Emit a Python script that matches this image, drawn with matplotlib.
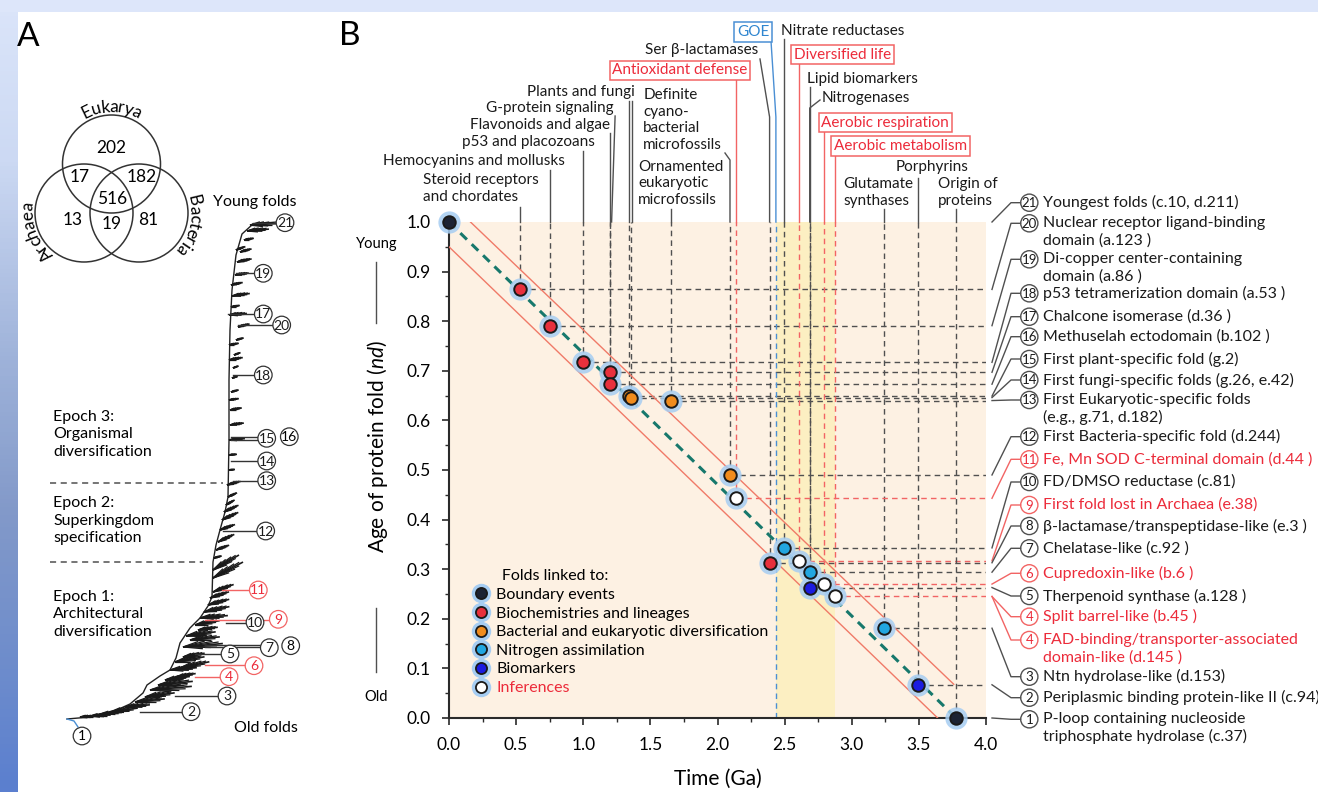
import numpy as np
import matplotlib
matplotlib.use("Agg")
import matplotlib.pyplot as plt
from matplotlib.patches import Circle, Rectangle
from matplotlib.lines import Line2D
from matplotlib.legend_handler import HandlerTuple
from matplotlib.ticker import MultipleLocator, FormatStrFormatter
from matplotlib.colors import LinearSegmentedColormap
from matplotlib.textpath import text_to_path
from matplotlib.font_manager import FontProperties

plt.rcParams['font.family'] = ['Lato', 'DejaVu Sans']
plt.rcParams['mathtext.fontset'] = 'custom'
plt.rcParams['mathtext.it'] = 'Lato:italic'
plt.rcParams['mathtext.rm'] = 'Lato'

# ---------------- data (panel B) ----------------
boundary_t = [0.0, 3.777]
boundary_nd = [1.0, 0.0]
biochem_t = [0.529, 0.752, 1.0, 1.2, 1.2, 2.388]
biochem_nd = [0.864, 0.791, 0.717, 0.697, 0.673, 0.313]
bactdiv_t = [1.343, 1.358, 1.651, 2.093]
bactdiv_nd = [0.649, 0.646, 0.640, 0.490]
nitrogen_t = [2.493, 2.687, 3.237]
nitrogen_nd = [0.343, 0.294, 0.181]
biomarker_t = [2.687, 3.496]
biomarker_nd = [0.263, 0.067]
inference_t = [2.135, 2.609, 2.794, 2.876]
inference_nd = [0.443, 0.317, 0.270, 0.245]

series_names = ['Boundary events', 'Biochemistries and lineages',
                'Bacterial and eukaryotic diversification', 'Nitrogen assimilation',
                'Biomarkers', 'Inferences']

clock_t = [0.0, 3.777]
clock_nd = [1.0, 0.0]
upper_t = [0.16, 3.76]
upper_nd = [1.0, 0.068]
lower_t = [0.0, 3.64]
lower_nd = [0.95, 0.0]
goe_t = 2.435
goe_band = [2.435, 2.876]

x_ticks = [0.0, 0.5, 1.0, 1.5, 2.0, 2.5, 3.0, 3.5, 4.0]
y_ticks = [0.0, 0.1, 0.2, 0.3, 0.4, 0.5, 0.6, 0.7, 0.8, 0.9, 1.0]

top_event_text = ['Steroid receptors\nand chordates', 'Hemocyanins and mollusks',
                  'p53 and placozoans', 'Flavonoids and algae', 'G-protein signaling',
                  'Plants and fungi', 'Ornamented\neukaryotic\nmicrofossils',
                  'Definite\ncyano-\nbacterial\nmicrofossils', 'Antioxidant defense',
                  'Ser β-lactamases', 'GOE', 'Nitrate reductases', 'Diversified life',
                  'Lipid biomarkers', 'Nitrogenases', 'Aerobic respiration',
                  'Aerobic metabolism', 'Glutamate\nsynthases', 'Porphyrins',
                  'Origin of\nproteins']
top_event_t = [0.529, 0.752, 1.0, 1.2, 1.2, 1.35, 1.651, 2.093, 2.135, 2.388, 2.435,
               2.493, 2.609, 2.687, 2.687, 2.794, 2.876, 3.237, 3.496, 3.777]
top_event_kind = ['k', 'k', 'k', 'k', 'k', 'k', 'k', 'k', 'r', 'k', 'b', 'k', 'r',
                  'k', 'k', 'r', 'r', 'k', 'k', 'k']

fold_num = ['21', '20', '19', '18', '17', '16', '15', '14', '13', '12', '11', '10',
            '9', '8', '7', '6', '5', '4', '4', '3', '2', '1']
fold_name = ['Youngest folds (c.10, d.211)',
             'Nuclear receptor ligand-binding\ndomain (a.123 )',
             'Di-copper center-containing\ndomain (a.86 )',
             'p53 tetramerization domain (a.53 )',
             'Chalcone isomerase (d.36 )',
             'Methuselah ectodomain (b.102 )',
             'First plant-specific fold (g.2)',
             'First fungi-specific folds (g.26, e.42)',
             'First Eukaryotic-specific folds\n(e.g., g.71, d.182)',
             'First Bacteria-specific fold (d.244)',
             'Fe, Mn SOD C-terminal domain (d.44 )',
             'FD/DMSO reductase (c.81)',
             'First fold lost in Archaea (e.38)',
             'β-lactamase/transpeptidase-like (e.3 )',
             'Chelatase-like (c.92 )',
             'Cupredoxin-like (b.6 )',
             'Therpenoid synthase (a.128 )',
             'Split barrel-like (b.45 )',
             'FAD-binding/transporter-associated\ndomain-like (d.145 )',
             'Ntn hydrolase-like (d.153)',
             'Periplasmic binding protein-like II (c.94)',
             'P-loop containing nucleoside\ntriphosphate hydrolase (c.37)']
fold_nd = [1.0, 0.864, 0.791, 0.717, 0.697, 0.673, 0.649, 0.646, 0.640, 0.490, 0.443,
           0.343, 0.317, 0.313, 0.294, 0.270, 0.263, 0.245, 0.245, 0.181, 0.067, 0.0]
fold_red = [False] * 10 + [True, False, True, False, False, True, False, True, True,
                           False, False, False]

# ---------------- data (panel A) ----------------
venn_names = ['Eukarya', 'Archaea', 'Bacteria']
venn_counts = ['202', '17', '182', '516', '13', '81', '19']

tree_trunk_x = [67, 90, 110, 130, 143, 147, 160, 170, 176, 180, 190, 200, 208, 212,
                213, 216, 220, 225, 228, 229, 229, 230, 232, 236, 242, 253, 277]
tree_trunk_y = [719, 717, 713, 704, 693, 685, 676, 670, 658, 643, 628, 618, 606, 597,
                562, 545, 530, 512, 497, 440, 380, 330, 290, 255, 234, 224, 222]
tuft_x = [250, 247, 244, 240, 237, 235, 232, 231, 229, 238, 236, 234, 233, 232, 231,
          230, 230, 229, 229, 228, 226, 222, 220, 218, 214, 213, 213, 208, 200, 198,
          190, 183, 183, 180, 176, 170, 150, 145, 125, 110, 90,
          236, 231, 229, 229, 229, 229, 227, 224, 216, 213, 210, 204, 195, 186, 175,
          165, 158, 135, 100, 80]
tuft_y = [225, 231, 240, 252, 262, 275, 296, 307, 315, 327, 340, 355, 368, 378, 392,
          410, 425, 440, 470, 497, 505, 520, 530, 542, 558, 578, 592, 605, 618, 630,
          640, 647, 657, 668, 677, 670, 690, 697, 707, 712, 716,
          250, 285, 345, 360, 400, 455, 485, 512, 550, 570, 598, 612, 625, 636, 662,
          680, 685, 702, 714, 717]
tuft_len = [26, 22, 10, 12, 15, 14, 18, 9, 18, 12, 8, 7, 6, 6, 8, 12, 14, 16, 6, 10,
            10, 18, 16, 18, 8, 34, 22, 22, 28, 20, 30, 40, 22, 30, 20, 27, 42, 30, 25,
            28, 20,
            10, 12, 10, 14, 10, 8, 14, 16, 14, 30, 20, 26, 25, 30, 30, 25, 35, 30, 22, 15]
tuft_ang = [3, 5, 10, 15, 12, 8, 8, 10, 5, 15, 15, 20, 20, 15, 15, 10, 8, 5, 5, 25,
            30, 25, 20, 25, 15, 28, 20, 15, 5, 8, 6, 5, 10, 12, 10, 5, 5, 8, 5, 8, 3,
            20, 12, 10, 10, 8, 5, 15, 25, 20, 30, 18, 12, 10, 8, 10, 8, 6, 6, 4, 3]

# ---------------- figure ----------------
W, H = 1318, 792
fig = plt.figure(figsize=(W / 100, H / 100), dpi=100)

bg = fig.add_axes([0, 0, 1, 1], zorder=-5)
bg.set_xlim(0, W); bg.set_ylim(H, 0); bg.axis('off')
grad = LinearSegmentedColormap.from_list('g', [(0, '#dbe5fa'), (0.2, '#ccd9f3'),
                                               (0.45, '#9fb3da'), (0.65, '#8299c9'),
                                               (0.85, '#6d8ccc'), (1, '#5b7fcf')])
bg.imshow(np.linspace(0, 1, 200).reshape(-1, 1), cmap=grad, aspect='auto',
          extent=(0, 18, H, 0))
bg.add_patch(Rectangle((0, 0), W, 12, color='#dde6fa', lw=0))
bg.add_patch(Rectangle((18, 12), W - 18, H - 12, color='white', lw=0))

# main axes
ax = fig.add_axes([449 / W, 1 - 718 / H, 537 / W, 496 / H], zorder=1)
ax.set_xlim(0, 4.0)
ax.set_ylim(0, 1.0)
ax.set_facecolor('#fdf1e3')
ax.axvspan(goe_band[0], goe_band[1], color='#fcefc2', lw=0, zorder=0.5)
for s in ['top', 'right']:
    ax.spines[s].set_visible(False)
for s in ['left', 'bottom']:
    ax.spines[s].set_color('#2a2a2a')
    ax.spines[s].set_linewidth(1.5)
ax.xaxis.set_minor_locator(MultipleLocator(0.25))
ax.yaxis.set_minor_locator(MultipleLocator(0.05))
ax.set_xticks(x_ticks)
ax.set_yticks(y_ticks)
ax.xaxis.set_major_formatter(FormatStrFormatter('%.1f'))
ax.yaxis.set_major_formatter(FormatStrFormatter('%.1f'))
ax.tick_params(which='major', length=5, width=1.2, color='#2a2a2a', labelsize=12.5,
               direction='out')
ax.tick_params(axis='y', which='major', pad=8)
ax.tick_params(axis='x', which='major', pad=9)
ax.tick_params(which='minor', length=3, width=1.0, color='#2a2a2a', direction='out')

GRAY = '#505050'
RED = '#ec2b3a'
LRED = '#f26464'
BLUE = '#4a8fd4'
LINE_RED = '#f07a68'

all_t = biochem_t + bactdiv_t + nitrogen_t + biomarker_t + inference_t + [boundary_t[1]]
all_nd = biochem_nd + bactdiv_nd + nitrogen_nd + biomarker_nd + inference_nd + [boundary_nd[1]]
all_red = [False] * (len(all_t) - len(inference_t) - 1) + [True] * len(inference_t) + [False]
for t, nd, r in zip(all_t, all_nd, all_red):
    c = LRED if r else GRAY
    ax.vlines(t, nd, 1.0, colors=c, linestyles=(0, (4, 3)), lw=1.0, zorder=2)
    if nd > 0:
        ax.hlines(nd, t, 4.0, colors=c, linestyles=(0, (4, 3)), lw=1.0, zorder=2)
ax.vlines(goe_t, 0, 1.0, colors=BLUE, linestyles=(0, (4, 3)), lw=1.0, zorder=2)

ax.plot(upper_t, upper_nd, color=LINE_RED, lw=1.0, zorder=3)
ax.plot(lower_t, lower_nd, color=LINE_RED, lw=1.0, zorder=3)
ax.plot(clock_t, clock_nd, color='#17786c', lw=2.2, ls=(0, (3, 2.2)), zorder=3)

series = [(boundary_t, boundary_nd, '#1c2333'), (biochem_t, biochem_nd, '#e8303c'),
          (bactdiv_t, bactdiv_nd, '#f08c1e'), (nitrogen_t, nitrogen_nd, '#22a6e0'),
          (biomarker_t, biomarker_nd, '#1c1ce0'), (inference_t, inference_nd, '#ffffff')]
handles = []
for (t, nd, col) in series:
    ax.plot(t, nd, 'o', ms=16, color='#a6cdf2', alpha=0.85, mec='none', zorder=5,
            clip_on=False)
    ax.plot(t, nd, 'o', ms=9, mfc=col, mec='#1a1a1a', mew=1.4, zorder=6, clip_on=False)
    g = Line2D([], [], ls='none', marker='o', ms=14, color='#a6cdf2', mec='none')
    m = Line2D([], [], ls='none', marker='o', ms=8, mfc=col, mec='#1a1a1a', mew=1.3)
    handles.append((g, m))

leg = ax.legend(handles, series_names, loc='upper left', bbox_to_anchor=(0.045, 0.300),
                frameon=False, title='       Folds linked to:', alignment='left',
                fontsize=11.5, title_fontsize=11.5, handlelength=1.0,
                handletextpad=0.45, labelspacing=0.28, borderpad=0, borderaxespad=0,
                handler_map={tuple: HandlerTuple(ndivide=1)})
leg.get_texts()[-1].set_color(RED)
leg.set_zorder(7)

# ---------------- overlay (pixel coordinates) ----------------
ov = fig.add_axes([0, 0, 1, 1], zorder=3)
ov.set_xlim(0, W); ov.set_ylim(H, 0); ov.axis('off')
ov.patch.set_alpha(0)


def px(t, nd):
    return ov.transData.inverted().transform(ax.transData.transform((t, nd)))


ov.text(378, 447, 'Age of protein fold ($\\it{nd}$)', rotation=90, ha='center',
        va='center', fontsize=15)
ov.text(377, 244, 'Young', ha='center', va='center', fontsize=10.5)
ov.text(376, 697, 'Old', ha='center', va='center', fontsize=10.5)
ov.plot([376, 376], [262, 323], color=GRAY, lw=1)
ov.plot([376, 376], [608, 672], color=GRAY, lw=1)
ov.text(718, 779, 'Time (Ga)', ha='center', va='center', fontsize=15)

ov.text(28, 37, 'A', ha='center', va='center', fontsize=24)
ov.text(350, 36, 'B', ha='center', va='center', fontsize=24)

# top annotations layout: text x, first line y, ha, top of leader, kink
top_layout = [
    (422.7, 180.0, 'left', 207, None),
    (383.3, 160.7, 'left', 170, None),
    (595.0, 141.7, 'right', 151, None),
    (610.0, 125.0, 'right', 133, None),
    (613.3, 108.3, 'right', 116, 'gprot'),
    (635.0, 91.7, 'right', 101, 'double'),
    (638.3, 166.7, 'left', 209, None),
    (643.3, 95.0, 'left', 160, (725, 153)),
    (680.0, 70.5, 'center', 80, None),
    (758.3, 50.0, 'right', 117, (760, 59)),
    (753.3, 32.0, 'center', 117, (771, 41)),
    (781.0, 30.7, 'left', 39, None),
    (842.6, 54.7, 'center', 64, None),
    (807.3, 79.0, 'left', 87, None),
    (821.7, 98.3, 'left', 108, (820, 100)),
    (885.3, 122.5, 'center', 132, None),
    (900.3, 146.2, 'center', 156, None),
    (843.3, 184.0, 'left', 209, None),
    (895.7, 167.3, 'left', 178, None),
    (938.3, 184.0, 'left', 209, None),
]
top_y = px(0, 1.0)[1]
for txt, t, kind, (tx, ty, ha, yend, kink) in zip(top_event_text, top_event_t,
                                                   top_event_kind, top_layout):
    x = px(t, 1.0)[0]
    lc = {'k': GRAY, 'r': LRED, 'b': BLUE}[kind]
    tc = {'k': '#1a1a1a', 'r': RED, 'b': '#2f86d0'}[kind]
    if kink == 'gprot':
        ov.plot([x + 1.5, x + 5], [top_y, yend], color=lc, lw=1)
    elif kink == 'double':
        ov.plot([x - 1.3, x - 1.3], [top_y, yend], color=lc, lw=1)
        ov.plot([x + 1.3, x + 1.3], [top_y, yend], color=lc, lw=1)
    elif kink is not None:
        ov.plot([x, x, kink[0]], [top_y, yend, kink[1]], color=lc, lw=1)
    else:
        ov.plot([x, x], [top_y, yend], color=lc, lw=1)
    if kind == 'k':
        for i, line in enumerate(txt.split('\n')):
            ov.text(tx, ty + i * 16.7, line, ha=ha, va='center', fontsize=11,
                    color=tc)
    else:
        ov.text(tx, ty, txt, ha='center', va='center', fontsize=11, color=tc,
                bbox=dict(boxstyle='square,pad=0.18', fc='white', ec=lc, lw=1.1))

# right annotations
right_y = [202.7, 223.3, 259.3, 293.3, 316.7, 336.7, 359.0, 380.0, 400.0, 436.7,
           459.3, 482.0, 505.0, 526.0, 548.3, 573.3, 596.0, 616.7, 640.0, 676.7,
           697.7, 719.3]
right_pt = px(4.0, 0)[0]
for num, name, nd, red, ly in zip(fold_num, fold_name, fold_nd, fold_red, right_y):
    lc = LRED if red else GRAY
    tc = RED if red else '#1a1a1a'
    py = px(4.0, nd)[1]
    ov.plot([right_pt + 6, 1011, 1020.5], [py, ly, ly], color=lc, lw=1)
    ov.add_patch(Circle((1029.3, ly), 8.6, fc='white', ec=lc, lw=1))
    ov.text(1029.3, ly + 0.5, num, ha='center', va='center', fontsize=9.5, color=tc)
    for i, line in enumerate(name.split('\n')):
        ov.text(1043, ly + i * 17.3, line, ha='left', va='center', fontsize=11.5,
                color=tc)

# ---------------- panel A ----------------
venn_centers = [(111.5, 164), (84, 213), (139, 213)]
for (cx, cy) in venn_centers:
    ov.add_patch(Circle((cx, cy), 49, fc='none', ec='#333333', lw=1.1))
count_pos = [(111.7, 148.3), (80, 176.7), (141.7, 176.7), (111.7, 199.3),
             (72.3, 220), (148.3, 220), (111.7, 224)]
for s, (x, y) in zip(venn_counts, count_pos):
    ov.text(x, y, s, ha='center', va='center', fontsize=12.5)

fp = FontProperties(family='Lato', size=12.5)


def arc_text(s, cx, cy, r, theta_c):
    widths = [text_to_path.get_text_width_height_descent(c, fp, ismath=False)[0]
              * 100 / 72 for c in s]
    total = sum(widths)
    start = np.radians(theta_c) + total / 2 / r
    cum = 0
    for c, w in zip(s, widths):
        th = start - (cum + w / 2) / r
        ov.text(cx + r * np.cos(th), cy - r * np.sin(th), c, rotation=np.degrees(th) - 90,
                ha='center', va='center', rotation_mode='anchor', fontproperties=fp)
        cum += w


arc_text(venn_names[0], 111.5, 164, 57, 90)
arc_text(venn_names[1], 84, 213, 56, 201)
arc_text(venn_names[2], 139, 213, 56, -13)

ov.text(255, 202, 'Young folds', ha='center', va='center', fontsize=11.5)
ov.text(266, 728, 'Old folds', ha='center', va='center', fontsize=11.5)
for i, line in enumerate(['Epoch 3:', 'Organismal', 'diversification']):
    ov.text(53, 416.7 + i * 17.5, line, ha='left', va='center', fontsize=11.5)
for i, line in enumerate(['Epoch 2:', 'Superkingdom', 'specification']):
    ov.text(53, 503 + i * 17.5, line, ha='left', va='center', fontsize=11.5)
for i, line in enumerate(['Epoch 1:', 'Architectural', 'diversification']):
    ov.text(53, 596.7 + i * 17.5, line, ha='left', va='center', fontsize=11.5)
ov.plot([50, 223], [483.3, 483.3], color=GRAY, lw=1.1, ls=(0, (4, 3)))
ov.plot([50, 203], [561.7, 561.7], color=GRAY, lw=1.1, ls=(0, (4, 3)))

# tree
ov.plot(tree_trunk_x, tree_trunk_y, color='#222222', lw=1.0)
fan = [(-10, 0.5), (-6, 0.7), (-3, 0.85), (0, 1.0), (3, 0.9), (6, 0.75), (10, 0.55),
       (15, 0.4)]
for x, y, L, a in zip(tuft_x, tuft_y, tuft_len, tuft_ang):
    for k, (da, f) in enumerate(fan):
        ang = np.radians(a + da)
        ov.plot([x, x + L * f * np.cos(ang)], [y, y - L * f * np.sin(ang)],
                color='#1a1a1a', lw=0.9 if k != 3 else 1.2, solid_capstyle='butt')

tree_labels = [
    ('21', 253, 277, 223, 285, 222.7, False),
    ('19', 236, 254, 273, 263.3, 273.3, False),
    ('17', 228, 254, 314, 263.3, 314, False),
    ('20', 238, 273, 325, 281.7, 325, False),
    ('18', 233, 254, 375, 263.3, 375, False),
    ('15', 231, 258, 437, 266.7, 438.3, False),
    ('14', 231, 258, 461, 266.7, 461, False),
    ('13', 233, 258, 481, 266.7, 480.7, False),
    ('12', 223, 257, 531, 265.7, 531, False),
    ('11', 222, 249, 590, 258.3, 590, True),
    ('10', 226, 246, 623, 255, 622.3, False),
    ('7', 205, 260, 647, 269.3, 647.7, False),
    ('5', 195, 221, 654, 230, 654, False),
    ('6', 205, 245, 665, 254, 665.7, True),
    ('4', 195, 220, 677, 229, 676.7, True),
    ('3', 175, 218, 696, 227, 696, False),
    ('2', 140, 182, 712, 191, 711.7, False),
]
for num, x0, x1, y, cx, cy, red in tree_labels:
    lc = LRED if red else '#333333'
    tc = RED if red else '#1a1a1a'
    ov.plot([x0, x1], [y, y], color=lc, lw=1.0)
    ov.add_patch(Circle((cx, cy), 8.8, fc='white', ec=lc, lw=0.9, zorder=4))
    ov.text(cx, cy + 0.5, num, ha='center', va='center', fontsize=10, color=tc, zorder=5)
# extra circles attached to neighbours
ov.plot([231, 258], [440, 440], color='#333333', lw=1.0)
ov.add_patch(Circle((289.3, 436.7), 8.8, fc='white', ec='#333333', lw=0.9, zorder=4))
ov.text(289.3, 437.2, '16', ha='center', va='center', fontsize=10, zorder=5)
ov.plot([205, 246], [620, 620], color=LRED, lw=1.0)
ov.plot([264, 270], [620, 620], color=LRED, lw=1.0)
ov.add_patch(Circle((278.3, 619.3), 8.8, fc='white', ec=LRED, lw=0.9, zorder=4))
ov.text(278.3, 619.8, '9', ha='center', va='center', fontsize=10, color=RED, zorder=5)
ov.plot([205, 260], [644.5, 644.5], color='#333333', lw=1.0)
ov.add_patch(Circle((290.7, 645.7), 8.8, fc='white', ec='#333333', lw=0.9, zorder=4))
ov.text(290.7, 646.2, '8', ha='center', va='center', fontsize=10, zorder=5)
ov.plot([67, 74, 78], [719, 721, 727], color=BLUE, lw=1.0)
ov.add_patch(Circle((82, 736), 8.8, fc='white', ec='#333333', lw=0.9, zorder=4))
ov.text(82, 736.5, '1', ha='center', va='center', fontsize=10, zorder=5)

fig.savefig('out.png', dpi=100)
